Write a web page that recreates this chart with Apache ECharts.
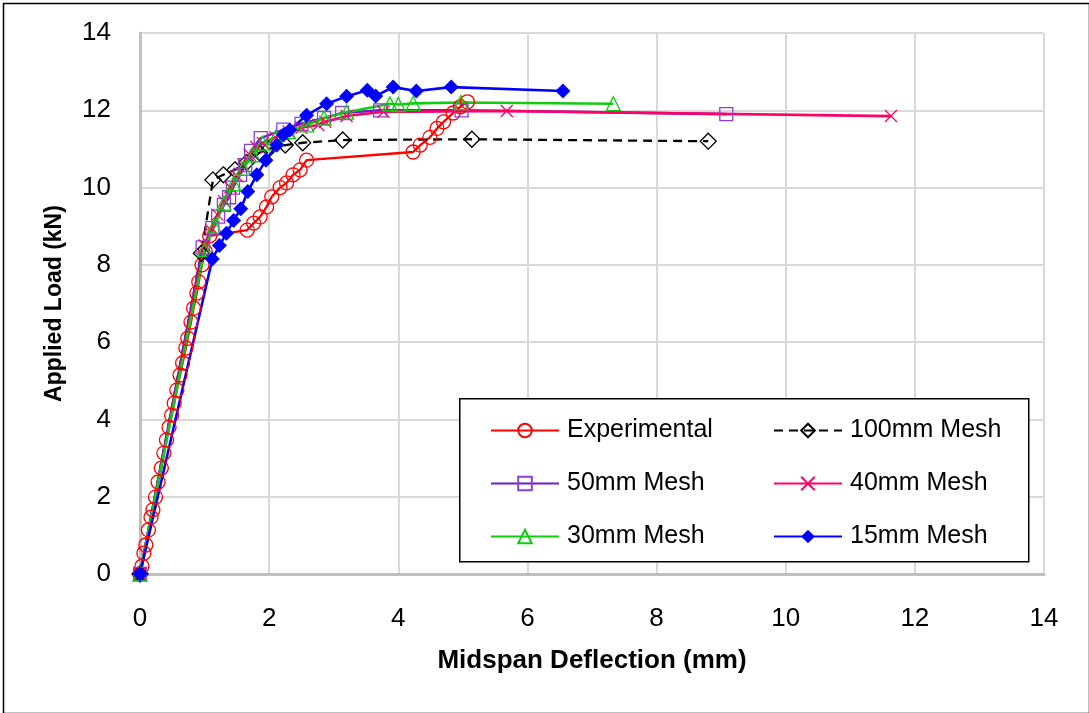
<!DOCTYPE html>
<html>
<head>
<meta charset="utf-8">
<script src="https://cdn.jsdelivr.net/npm/echarts@6/dist/echarts.min.js"></script>
<style>
html,body{margin:0;padding:0;background:#fff;}
#chart{width:1089px;height:713px;}
</style>
</head>
<body>
<div id="chart"></div>
<script>
// ---- Data (Midspan Deflection mm, Applied Load kN) ----
var seriesNames = ['Experimental', '100mm Mesh', '50mm Mesh', '40mm Mesh', '30mm Mesh', '15mm Mesh'];

var experimental = [
  [0,0],[0.03,0.2],[0.06,0.54],[0.09,0.75],[0.13,1.14],[0.17,1.47],[0.2,1.66],[0.24,1.99],
  [0.28,2.38],[0.33,2.74],[0.37,3.13],[0.41,3.47],[0.45,3.8],[0.49,4.11],[0.53,4.42],
  [0.57,4.76],[0.62,5.15],[0.66,5.46],[0.71,5.85],[0.74,6.1],[0.79,6.52],[0.83,6.88],
  [0.88,7.27],[0.91,7.56],[0.96,8.0],[1.01,8.35],[1.08,8.75],[1.66,8.9],[1.76,9.08],
  [1.86,9.24],[1.96,9.5],[2.04,9.76],[2.17,10.0],[2.27,10.12],[2.37,10.33],[2.48,10.46],
  [2.58,10.71],[4.23,10.92],[4.34,11.1],[4.49,11.3],[4.6,11.53],[4.7,11.7],[4.85,11.93],
  [4.96,12.09],[5.07,12.22]
];

var mesh100 = [
  [0,0],[0.95,8.3],[1.13,10.2],[1.29,10.33],[1.47,10.46],[1.65,10.65],[1.85,10.9],
  [2.0,11.0],[2.25,11.1],[2.52,11.16],[3.14,11.23],[5.14,11.25],[8.8,11.2]
];

var mesh50 = [
  [0,0],[0.97,8.45],[1.12,8.95],[1.21,9.25],[1.3,9.55],[1.38,9.75],[1.44,10.0],
  [1.55,10.33],[1.63,10.58],[1.72,10.95],[1.87,11.28],[2.22,11.5],[2.5,11.65],
  [2.85,11.8],[3.13,11.93],[3.72,12.0],[4.98,12.0],[9.08,11.9]
];

var mesh40 = [
  [0,0],[1.0,8.5],[1.1,8.9],[1.2,9.3],[1.3,9.65],[1.4,10.0],[1.5,10.3],[1.6,10.6],
  [1.7,10.85],[1.8,11.05],[1.9,11.15],[2.1,11.3],[2.3,11.45],[2.5,11.55],[2.76,11.62],
  [2.87,11.7],[3.2,11.85],[3.77,11.96],[5.68,11.98],[11.63,11.85]
];

var mesh30 = [
  [0,0],[1.0,8.4],[1.15,9.0],[1.3,9.6],[1.45,10.1],[1.6,10.5],[1.75,10.85],[1.9,11.15],
  [2.1,11.3],[2.3,11.45],[2.58,11.62],[2.85,11.8],[3.2,11.95],[3.87,12.17],[4.0,12.15],
  [4.23,12.18],[4.97,12.2],[7.33,12.17]
];

var mesh15 = [
  [0,0],[1.12,8.15],[1.23,8.5],[1.34,8.82],[1.45,9.15],[1.56,9.45],[1.67,9.9],[1.81,10.33],
  [1.95,10.71],[2.12,11.1],[2.22,11.36],[2.32,11.49],[2.58,11.87],[2.89,12.17],[3.2,12.36],
  [3.52,12.52],[3.65,12.37],[3.92,12.6],[4.28,12.5],[4.82,12.6],[6.55,12.5]
];

var xTicks = [0, 2, 4, 6, 8, 10, 12, 14];
var yTicks = [0, 2, 4, 6, 8, 10, 12, 14];

// ---- Chart ----
var FONT = 'Liberation Sans';
var chart = echarts.init(document.getElementById('chart'), null, {renderer: 'canvas'});

function mkSeries(name, data, color, lineColor, symbol, size, filled, dashed, lw) {
  return {
    name: name, type: 'line', data: data,
    symbol: symbol, symbolSize: size,
    showAllSymbol: true,
    lineStyle: {color: lineColor, width: lw, type: dashed ? [9, 6] : 'solid'},
    itemStyle: filled ? {color: color, borderColor: color, borderWidth: 0}
                      : {color: 'rgba(0,0,0,0)', borderColor: color, borderWidth: 1.3},
    emphasis: {disabled: true},
    animation: false
  };
}

var xPath = 'path://M0,0L10,10M10,0L0,10';

var series = [
  mkSeries(seriesNames[0], experimental, '#FF0000', '#FF0000', 'circle', 14, false, false, 2.3),
  mkSeries(seriesNames[1], mesh100, '#000000', '#000000', 'diamond', 16, false, true, 2.3),
  mkSeries(seriesNames[2], mesh50, '#8A3FD6', '#6A1FC8', 'rect', 13, false, false, 2.6),
  mkSeries(seriesNames[3], mesh40, '#FF0066', '#FF0066', xPath, 12, false, false, 2.6),
  mkSeries(seriesNames[4], mesh30, '#11CC11', '#11CC11', 'triangle', 14, false, false, 2.6),
  mkSeries(seriesNames[5], mesh15, '#0000FF', '#0000FF', 'diamond', 15, true, false, 2.6)
];

var legendPos = [
  {left: 490, top: 418}, {left: 773, top: 418},
  {left: 490, top: 471}, {left: 773, top: 471},
  {left: 490, top: 524}, {left: 773, top: 524}
];
var legends = seriesNames.map(function (n, i) {
  return {
    data: [n], left: legendPos[i].left, top: legendPos[i].top, z: 10,
    orient: 'horizontal', padding: 0, itemWidth: 68, itemHeight: 17,
    selectedMode: false,
    textStyle: {fontFamily: FONT, fontSize: 25, color: '#000', padding: [0, 0, 0, 3]}
  };
});

var option = {
  backgroundColor: '#fff',
  animation: false,
  grid: {left: 140, top: 33, right: 45, bottom: 139, containLabel: false},
  legend: legends,
  xAxis: {
    type: 'value', min: xTicks[0], max: xTicks[xTicks.length - 1], interval: 2,
    name: 'Midspan Deflection (mm)', nameLocation: 'middle', nameGap: 74,
    nameTextStyle: {fontFamily: FONT, fontSize: 26, fontWeight: 'bold', color: '#000'},
    axisLine: {show: true, onZero: true, lineStyle: {color: '#BFBFBF', width: 3}},
    axisTick: {show: false},
    axisLabel: {fontFamily: FONT, fontSize: 26, color: '#000', margin: 32},
    splitLine: {show: true, lineStyle: {color: '#D9D9D9', width: 2}}
  },
  yAxis: {
    type: 'value', min: yTicks[0], max: yTicks[yTicks.length - 1], interval: 2,
    name: 'Applied Load (kN)', nameLocation: 'middle', nameGap: 74,
    nameTextStyle: {fontFamily: FONT, fontSize: 23, fontWeight: 'bold', color: '#000'},
    axisLine: {show: true, onZero: true, lineStyle: {color: '#BFBFBF', width: 3}},
    axisTick: {show: false},
    axisLabel: {fontFamily: FONT, fontSize: 26, color: '#000', margin: 29},
    splitLine: {show: true, lineStyle: {color: '#D9D9D9', width: 2}}
  },
  graphic: [
    {type: 'rect', left: 1, top: 1, z: 100, silent: true,
     shape: {x: 0, y: 0, width: 1086, height: 710},
     style: {fill: 'none', stroke: '#000', lineWidth: 1.5}},
    {type: 'rect', left: 459, top: 398, z: 1, silent: true,
     shape: {x: 0, y: 0, width: 569, height: 163},
     style: {fill: '#fff', stroke: '#000', lineWidth: 1.5}}
  ],
  series: series
};
chart.setOption(option);
</script>
</body>
</html>
